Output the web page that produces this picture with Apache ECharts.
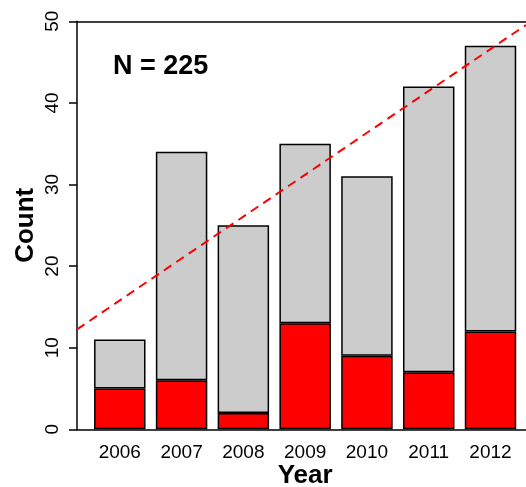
<!DOCTYPE html>
<html>
<head>
<meta charset="utf-8">
<script src="https://cdn.jsdelivr.net/npm/echarts@6/dist/echarts.min.js"></script>
<style>
  html, body { margin: 0; padding: 0; background: #fff; }
  #chart { width: 526px; height: 487px; }
</style>
</head>
<body>
<div id="chart"></div>
<script>
  // values
  var years = ['2006', '2007', '2008', '2009', '2010', '2011', '2012'];
  var totals = [11, 34, 25, 35, 31, 42, 47];
  var redCounts = [5, 6, 2, 13, 9, 7, 12];
  // dashed trend line, value at first and last year
  var trendAtFirst = 15.8;
  var trendAtLast = 46.6;

  var greyRest = totals.map(function (t, i) { return t - redCounts[i]; });
  var N = totals.reduce(function (a, b) { return a + b; }, 0);

  /* layout in px */
  var W = 526;
  var bandLeft = 88.9, bandRight = 521.4, axisX = 77;
  var gTop = 21.3, gBottom = 57.7;
  var bandPx = (bandRight - bandLeft) / years.length;
  var y0 = +years[0], y1 = +years[years.length - 1];
  var xMin = y0 - 0.5 - (bandLeft - axisX) / bandPx;
  var xMax = y1 + 0.5 + (W - bandRight) / bandPx;
  function trend(x) {
    return trendAtFirst + (trendAtLast - trendAtFirst) * (x - y0) / (y1 - y0);
  }

  var font = 'Liberation Sans, Arial, Helvetica, sans-serif';
  var chart = echarts.init(document.getElementById('chart'));
  chart.setOption({
    animation: false,
    textStyle: { fontFamily: font, color: '#000' },
    title: {
      text: 'N = ' + N,
      left: 113, top: 53, padding: 0,
      textStyle: { fontFamily: font, fontSize: 27, fontWeight: 'bold', color: '#000' }
    },
    grid: [
      { left: bandLeft, right: W - bandRight, top: gTop, bottom: gBottom, outerBoundsMode: 'none' },
      { left: axisX, right: 0, top: gTop, bottom: gBottom, outerBoundsMode: 'none' }
    ],
    xAxis: [
      {
        type: 'category', gridIndex: 0, data: years,
        name: 'Year', nameLocation: 'middle', nameGap: 34, nameMoveOverlap: false,
        nameTextStyle: { fontFamily: font, fontSize: 26, fontWeight: 'bold', color: '#000' },
        axisLine: { show: false },
        axisTick: { alignWithLabel: true, length: 8, lineStyle: { color: '#000', width: 1.5 } },
        axisLabel: { fontFamily: font, fontSize: 19, color: '#000', margin: 14 }
      },
      {
        type: 'value', gridIndex: 1, min: xMin, max: xMax, position: 'bottom',
        axisLine: { show: true, onZero: false, lineStyle: { color: '#000', width: 1.5 } },
        axisTick: { show: false }, axisLabel: { show: false }, splitLine: { show: false }
      },
      {
        type: 'value', gridIndex: 1, min: xMin, max: xMax, position: 'top',
        axisLine: { show: true, onZero: false, lineStyle: { color: '#000', width: 1.5 } },
        axisTick: { show: false }, axisLabel: { show: false }, splitLine: { show: false }
      }
    ],
    yAxis: [
      {
        type: 'value', gridIndex: 0, min: 0, max: 50, interval: 10,
        offset: bandLeft - axisX,
        name: 'Count', nameLocation: 'middle', nameGap: 38, nameMoveOverlap: false,
        nameTextStyle: { fontFamily: font, fontSize: 26, fontWeight: 'bold', color: '#000' },
        axisLine: { show: true, lineStyle: { color: '#000', width: 1.5 } },
        axisTick: { show: true, length: 8, lineStyle: { color: '#000', width: 1.5 } },
        axisLabel: { fontFamily: font, fontSize: 19, color: '#000', rotate: 90, margin: 15 },
        splitLine: { show: false }
      },
      {
        type: 'value', gridIndex: 1, min: 0, max: 50, show: false
      }
    ],
    series: [
      {
        name: 'red', type: 'bar', stack: 'a', xAxisIndex: 0, yAxisIndex: 0,
        data: redCounts, barWidth: '83.3%',
        itemStyle: { color: '#ff0000', borderColor: '#000', borderWidth: 1.5 }
      },
      {
        name: 'grey', type: 'bar', stack: 'a', xAxisIndex: 0, yAxisIndex: 0,
        data: greyRest, barWidth: '83.3%',
        itemStyle: { color: '#cccccc', borderColor: '#000', borderWidth: 1.5 }
      },
      {
        name: 'trend', type: 'line', xAxisIndex: 1, yAxisIndex: 1,
        data: [[xMin, trend(xMin)], [xMax, trend(xMax)]],
        symbol: 'none', silent: true, z: 5,
        lineStyle: { color: '#ff0000', width: 2, type: [9, 6] }
      }
    ]
  });
</script>
</body>
</html>
